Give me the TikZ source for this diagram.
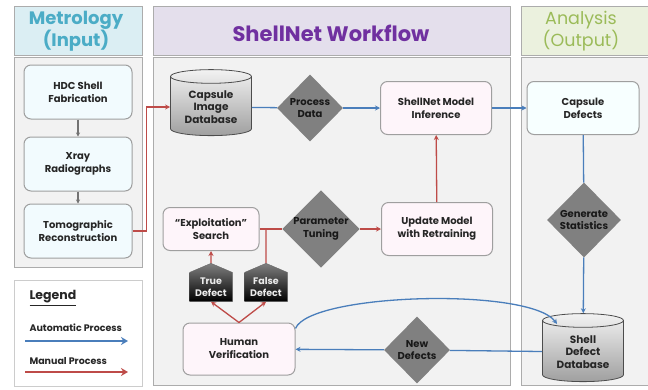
\documentclass[tikz,border=0pt]{standalone}
\usepackage{fontspec}
\setmainfont{Poppins}
\usetikzlibrary{arrows.meta, shapes.geometric, shapes.symbols}

\definecolor{flowblue}{HTML}{4A7EBB}
\definecolor{flowred}{HTML}{BE4B48}
\definecolor{inhead}{HTML}{DBEEF3}
\definecolor{wfhead}{HTML}{E4DFEC}
\definecolor{outhead}{HTML}{EBF1DE}
\definecolor{intext}{HTML}{4BACC6}
\definecolor{wftext}{HTML}{7030A0}
\definecolor{outtext}{HTML}{9BBB59}

\begin{document}
\begin{tikzpicture}[x=1pt, y=-1pt,
    panel/.style={draw=gray!65, line width=0.8pt},
    title/.style={font=\fontsize{18}{20}\selectfont\bfseries, align=center},
    box/.style={draw=gray!75, line width=1pt, rounded corners=7pt, align=center,
        minimum width=108pt, minimum height=54pt, text=black!85,
        font=\fontsize{10}{13}\selectfont\bfseries},
    inbox/.style={box, fill=cyan!5},
    wfbox/.style={box, fill=magenta!4},
    outbox/.style={box, fill=green!4!cyan!3},
    decide/.style={diamond, fill=gray, inner sep=0pt, align=center, text=black!90,
        font=\fontsize{10}{12.5}\selectfont\bfseries},
    store/.style={cylinder, shape border rotate=90, aspect=0.25, draw=black!70,
        line width=0.8pt, top color=gray!10, bottom color=gray!75, align=center,
        minimum width=81pt, minimum height=66pt, inner sep=1pt, text=black!85,
        font=\fontsize{10.5}{12.5}\selectfont\bfseries},
    verdict/.style={signal, signal to=north, signal pointer angle=134, draw=black!60,
        top color=gray, bottom color=black, text=gray!15, align=center, inner sep=0.5pt,
        minimum width=43pt, minimum height=36pt,
        font=\fontsize{9.5}{11.5}\selectfont\bfseries},
    flow/.style={line width=1.3pt, -{Stealth[length=5pt, width=5pt]}},
    legflow/.style={line width=2.4pt, -{Stealth[length=7pt, width=8pt]}},
    legtext/.style={anchor=west, text=black!85, font=\fontsize{9.5}{11}\selectfont\bfseries}
]

\clip (0,0) rectangle (648,389);

% column panels
\draw[panel, fill=inhead] (14,6) rectangle (142,55);
\draw[panel, fill=gray!10] (14,57) rectangle (142,267);
\draw[panel, fill=white, draw=gray!40] (14,280) rectangle (142,386);
\draw[panel, fill=wfhead] (153,6) rectangle (510,55);
\draw[panel, fill=gray!10] (153,57) rectangle (510,385);
\draw[panel, fill=outhead] (521,6) rectangle (660,55);
\draw[panel, fill=gray!10] (521,57) rectangle (660,385);

\node[title, text=intext] (metro) at (76,31) {Metrology\\(Input)};
\node[title, text=wftext, font=\fontsize{21}{23}\selectfont\bfseries] (shellnet) at (331,33) {ShellNet Workflow};
\node[title, text=outtext, font=\fontsize{17.5}{20}\selectfont] (analysis) at (581,31) {Analysis\\(Output)};

% metrology
\node[inbox] (hdc) at (78,92) {HDC Shell\\Fabrication};
\node[inbox] (xray) at (78,164) {Xray\\Radiographs};
\node[inbox] (tomo) at (78,231) {Tomographic\\Reconstruction};

% workflow
\node[store] (capdb) at (211,107) {Capsule\\Image\\Database};
\node[decide, minimum width=66pt, minimum height=67pt] (procd) at (310,108) {Process\\Data};
\node[wfbox, minimum width=111pt, minimum height=53pt] (infer) at (436,108) {ShellNet Model\\Inference};
\node[wfbox, minimum width=111pt, minimum height=53pt] (update) at (437,229) {Update Model\\with Retraining};
\node[decide, minimum width=72pt, minimum height=75pt] (tuning) at (321,229) {Parameter\\Tuning};
\node[wfbox, minimum width=96pt, minimum height=43pt] (search) at (211,229) {“Exploitation”\\Search};
\node[verdict] (truedef) at (211,287) {True\\Defect};
\node[verdict] (falsedef) at (266,287) {False\\Defect};
\node[wfbox, minimum width=112pt, minimum height=52pt] (human) at (239,349) {Human\\Verification};
\node[decide, minimum width=66pt, minimum height=67pt] (newdef) at (417,350) {New\\Defects};

% analysis
\node[outbox, minimum width=112pt, minimum height=53pt] (capdef) at (583,108) {Capsule\\Defects};
\node[decide, minimum width=74pt, minimum height=75pt] (genstat) at (584,220) {Generate\\Statistics};
\node[store, minimum height=68pt] (defdb) at (583,352) {Shell\\Defect\\Database};
\coordinate (dbin) at (557,324);

% legend
\node[legtext, font=\fontsize{12.5}{14}\selectfont\bfseries] (legtitle) at (26,298) {\underline{Legend}};
\node[legtext] (legauto) at (26,328) {Automatic Process};
\node[legtext] (legman) at (26,361) {Manual Process};
\coordinate (autoa) at (25,341);
\coordinate (autob) at (128,341);
\coordinate (mana) at (25,372);
\coordinate (manb) at (128,372);

\begin{scope}[every edge/.style={draw=gray!90!black, line width=1.1pt}]
    \path [-{Stealth[length=4pt, width=4pt]}] (hdc) edge (xray);
    \path [-{Stealth[length=4pt, width=4pt]}] (xray) edge (tomo);
\end{scope}

\begin{scope}[every edge/.style={draw=flowblue, line width=1.3pt}]
    \path (capdb) edge (procd);
    \path [flow] (procd) edge (infer);
    \path [flow] (infer) edge (capdef);
    \path (capdef) edge (genstat);
    \path [flow] (genstat) edge (defdb);
    \path (defdb) edge (newdef);
    \path [flow] (newdef) edge (human);
    \path [legflow] (autoa) edge (autob);
\end{scope}

\begin{scope}[every edge/.style={draw=flowred, line width=1.3pt}]
    \path [flow] (update) edge (infer);
    \path [flow] (tuning) edge (update);
    \path (search) edge (tuning);
    \path (falsedef) edge (falsedef |- tuning);
    \path [flow] (truedef) edge (search);
    \path [flow] (human.north) edge (truedef.south);
    \path [flow] (human.north) edge (falsedef.south);
    \path [legflow] (mana) edge (manb);
\end{scope}

\draw[flowblue, flow] (human.20) .. controls (310,293) and (530,287) .. (dbin);
\draw[flowred, flow] (tomo.east) -- ++(14,0) |- (capdb);

\end{tikzpicture}
\end{document}
